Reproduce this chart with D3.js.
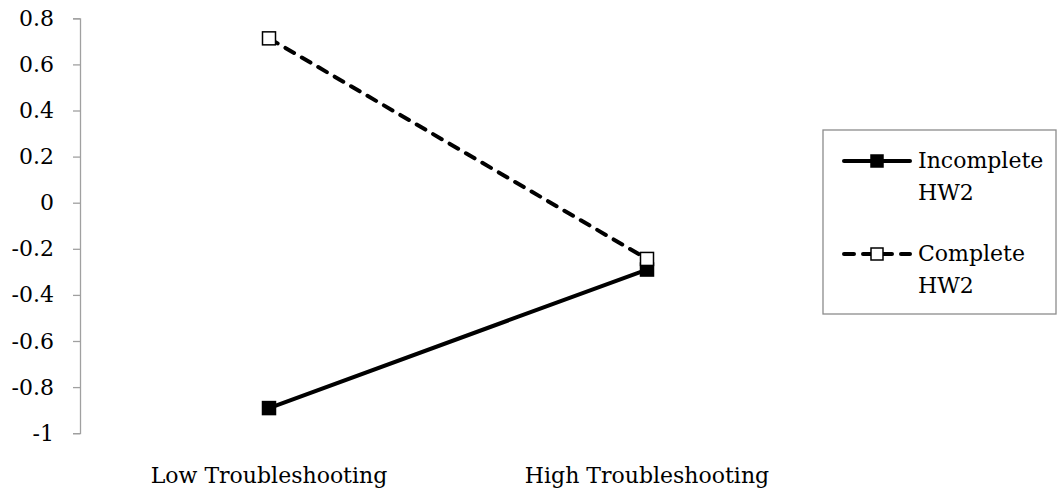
<!DOCTYPE html>
<html>
<head>
	<meta charset="utf-8">
	<title>Troubleshooting by HW2</title>
	<script src="https://d3js.org/d3.v7.min.js"></script>
	<style>
		body { margin: 0; background: #fff; }
		text { font-family: "DejaVu Serif", serif; font-size: 22px; fill: #000; }
	</style>
</head>
<body>
	<div id="chart"></div>

	<script type="text/javascript">
		var categories = ["Low Troubleshooting", "High Troubleshooting"];
		var seriesNames = ["Incomplete HW2", "Complete HW2"];
		var incompleteValues = [-0.891, -0.290];
		var completeValues = [0.713, -0.244];
		var yTicks = [-1, -0.8, -0.6, -0.4, -0.2, 0, 0.2, 0.4, 0.6, 0.8];

		var width = 1057, height = 495;

		var svg = d3.select("#chart")
			.append("svg")
			.attr("width", width)
			.attr("height", height);

		var x = d3.scaleBand()
			.domain(categories)
			.range([80, 836]);

		var y = d3.scaleLinear()
			.domain([-1, 0.8])
			.range([433.2, 18.3]);

		// y axis, plain hyphen for negatives like the original
		var yAxis = svg.append("g")
			.attr("transform", "translate(80,0)")
			.call(d3.axisLeft(y).tickValues(yTicks).tickSize(7).tickPadding(19)
				.tickFormat(function(d){ return String(+d.toFixed(1)); }));
		yAxis.select(".domain").attr("stroke", "#a0a0a0").attr("stroke-width", 1.3);
		yAxis.selectAll(".tick line").attr("stroke", "#a0a0a0").attr("stroke-width", 1.3);
		yAxis.selectAll(".tick text")
			.attr("font-family", "DejaVu Serif")
			.attr("font-size", 21)
			.attr("fill", "#000");

		// category labels
		svg.selectAll(".cat")
			.data(categories)
			.enter().append("text")
			.attr("class", "cat")
			.attr("x", function(d){ return x(d) + x.bandwidth()/2; })
			.attr("y", 483)
			.style("text-anchor", "middle")
			.text(function(d){ return d; });

		var series = [
			{name: seriesNames[0], values: incompleteValues, dash: null, fill: "#000"},
			{name: seriesNames[1], values: completeValues, dash: "10,9", fill: "#fff"}
		];

		var line = d3.line()
			.x(function(d, i){ return x(categories[i]) + x.bandwidth()/2; })
			.y(function(d){ return y(d); });

		var ms = 13;

		series.forEach(function(s){
			svg.append("path")
				.datum(s.values)
				.attr("d", line)
				.attr("fill", "none")
				.attr("stroke", "#000")
				.attr("stroke-width", 4)
				.attr("stroke-linecap", "round")
				.attr("stroke-dasharray", s.dash);
		});

		series.forEach(function(s){
			svg.selectAll(null)
				.data(s.values)
				.enter().append("rect")
				.attr("x", function(d, i){ return x(categories[i]) + x.bandwidth()/2 - ms/2; })
				.attr("y", function(d){ return y(d) - ms/2; })
				.attr("width", ms)
				.attr("height", ms)
				.attr("fill", s.fill)
				.attr("stroke", "#000")
				.attr("stroke-width", 1.5);
		});

		// legend
		var legend = svg.append("g");
		legend.append("rect")
			.attr("x", 823)
			.attr("y", 130)
			.attr("width", 233)
			.attr("height", 184)
			.attr("fill", "#fff")
			.attr("stroke", "#8c8c8c")
			.attr("stroke-width", 1.3);

		var legendY = [161, 254];
		series.forEach(function(s, i){
			var ly = legendY[i];
			legend.append("line")
				.attr("x1", 844).attr("x2", 910)
				.attr("y1", ly).attr("y2", ly)
				.attr("stroke", "#000")
				.attr("stroke-width", 4)
				.attr("stroke-linecap", "round")
				.attr("stroke-dasharray", s.dash);
			legend.append("rect")
				.attr("x", 877 - 6).attr("y", ly - 6)
				.attr("width", 12).attr("height", 12)
				.attr("fill", s.fill)
				.attr("stroke", "#000")
				.attr("stroke-width", 1.5);
			var words = s.name.split(" ");
			var t = legend.append("text")
				.attr("x", 918)
				.attr("y", ly + 7);
			t.append("tspan").attr("x", 918).text(words[0]);
			t.append("tspan").attr("x", 918).attr("dy", 32).text(words[1]);
		});
	</script>
</body>
</html>
